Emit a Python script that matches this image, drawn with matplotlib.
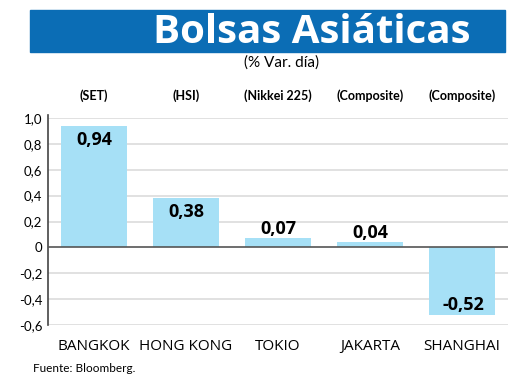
import matplotlib
matplotlib.use("Agg")
import matplotlib.pyplot as plt
from matplotlib.patches import Rectangle

# Datos
ciudades = ["BANGKOK", "HONG KONG", "TOKIO", "JAKARTA", "SHANGHAI"]
indices = ["(SET)", "(HSI)", "(Nikkei 225)", "(Composite)", "(Composite)"]
variacion = [0.94, 0.38, 0.07, 0.04, -0.52]
ticks_y = [-0.6, -0.4, -0.2, 0, 0.2, 0.4, 0.6, 0.8, 1.0]

narrow = ["Liberation Sans Narrow", "Lato", "DejaVu Sans"]
azul = "#0b6db5"
celeste = "#a6e0f6"


def fmt(v):
    """coma decimal"""
    if v == 0:
        return "0"
    return ("%.1f" % v).replace(".", ",")


fig = plt.figure(figsize=(5.2, 3.9), dpi=100)

# banda de titulo
fig.patches.append(Rectangle((30 / 520, 1 - 52 / 390), 475 / 520, 42 / 390,
                             transform=fig.transFigure, color=azul, zorder=0))
fig.text(312 / 520, 1 - 43 / 390, "Bolsas Asiáticas", color="white",
         fontsize=29, fontweight="bold", family="Open Sans",
         ha="center", va="baseline")
fig.text(282 / 520, 1 - 63 / 390, "(% Var. día)", fontsize=11,
         family="Lato", ha="center", va="center")

ax = fig.add_axes([48 / 520, 1 - 325 / 390, 460 / 520, 207 / 390])
x = range(len(ciudades))
ax.bar(x, variacion, width=0.72, color=celeste, zorder=2)

ax.set_xlim(-0.5, 4.5)
ax.set_ylim(-0.6, 1.0)
ax.set_yticks(ticks_y)
ax.set_yticklabels([fmt(t) for t in ticks_y], family=narrow, fontsize=9.5)
ax.set_xticks(list(x))
ax.set_xticklabels(ciudades, family="Open Sans", fontsize=11)
ax.tick_params(axis="x", length=0, pad=10)
ax.tick_params(axis="y", length=0, pad=4)

for t in ticks_y:
    if t != 0:
        ax.axhline(t, color="#dcdcdc", lw=1.2, zorder=1)
ax.axhline(0, color="#555555", lw=1.2, zorder=3)

for s in ["top", "right", "bottom"]:
    ax.spines[s].set_visible(False)
ax.spines["left"].set_color("#444444")
ax.spines["left"].set_linewidth(1.2)
ax.spines["left"].set_bounds(-0.6, 1.02)

# valores
for i, v in enumerate(variacion):
    txt = ("%.2f" % v).replace(".", ",")
    if v > 0.2:
        ax.text(i, v - 0.04, txt, ha="center", va="top", fontsize=13,
                fontweight="bold", family="Open Sans", zorder=4)
    elif v > 0:
        ax.text(i, v + 0.005, txt, ha="center", va="bottom", fontsize=13,
                fontweight="bold", family="Open Sans", zorder=4)
    else:
        ax.text(i + 0.02, v + 0.005, txt, ha="center", va="bottom",
                fontsize=13, fontweight="bold", family="Open Sans", zorder=4)

# indices arriba
for i, nombre in enumerate(indices):
    ax.text(i, 1.0 + 0.17, nombre, ha="center", va="center", fontsize=9,
            fontweight="bold", family=narrow, clip_on=False)

fig.text(33 / 520, 1 - 369 / 390, "Fuente: Bloomberg.", fontsize=8.5,
         family=narrow, ha="left", va="center")

fig.savefig("out.png", dpi=100)
